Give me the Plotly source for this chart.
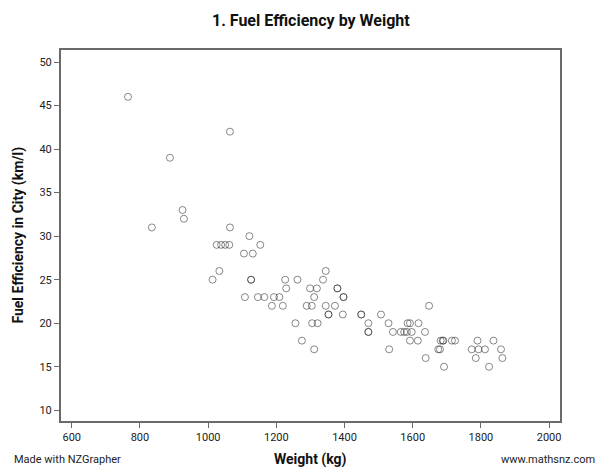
import plotly.graph_objects as go

weight_kg = [
    765, 1064, 888, 925, 929, 835, 1064, 1121, 1025, 1038, 1050, 1062, 1153,
    1105, 1131, 1033, 1013, 1126, 1126, 1226, 1262, 1345, 1337, 1229, 1299,
    1319, 1379, 1379, 1108, 1146, 1165, 1193, 1209, 1311, 1397, 1397, 1187,
    1219, 1289, 1304, 1345, 1372, 1353, 1353, 1395, 1449, 1449, 1507, 1256,
    1305, 1321, 1470, 1529, 1470, 1470, 1275, 1311, 1531, 1648, 1585, 1592,
    1617, 1542, 1565, 1575, 1583, 1597, 1636, 1592, 1615, 1682, 1688, 1690,
    1715, 1724, 1675, 1680, 1638, 1692, 1790, 1837, 1773, 1793, 1812, 1859,
    1785, 1863, 1824,
]
city_kml = [
    46, 42, 39, 33, 32, 31, 31, 30, 29, 29, 29, 29, 29,
    28, 28, 26, 25, 25, 25, 25, 25, 26, 25, 24, 24,
    24, 24, 24, 23, 23, 23, 23, 23, 23, 23, 23, 22,
    22, 22, 22, 22, 22, 21, 21, 21, 21, 21, 21, 20,
    20, 20, 20, 20, 19, 19, 18, 17, 17, 22, 20, 20,
    20, 19, 19, 19, 19, 19, 19, 18, 18, 18, 18, 18,
    18, 18, 17, 17, 16, 15, 18, 18, 17, 17, 17, 17,
    16, 16, 15,
]
x_ticks = [600, 800, 1000, 1200, 1400, 1600, 1800, 2000]
y_ticks = [10, 15, 20, 25, 30, 35, 40, 45, 50]

FONT = "Roboto"
AXC = "#6a6a6a"

fig = go.Figure()
fig.add_trace(go.Scatter(
    x=weight_kg, y=city_kml, mode="markers",
    marker=dict(symbol="circle-open", size=7, color="rgba(40,40,40,0.55)",
                line=dict(width=1)),
    hoverinfo="x+y", showlegend=False,
))

axis_common = dict(
    showline=True, mirror=True, linecolor=AXC, linewidth=2,
    ticks="outside", ticklen=5, tickcolor=AXC, tickwidth=1,
    showgrid=False, zeroline=False,
    tickfont=dict(family=FONT, size=11, color="#222"),
)
fig.update_xaxes(range=[568.5, 2032], tickvals=x_ticks, **axis_common)
fig.update_yaxes(range=[8.77, 51.38], tickvals=y_ticks, **axis_common)

fig.update_layout(
    width=608, height=472,
    margin=dict(l=61, r=48, t=50, b=51),
    plot_bgcolor="white", paper_bgcolor="white",
    font=dict(family=FONT),
)

ann = [
    dict(text="<b>1. Fuel Efficiency by Weight</b>", x=0.5, y=1.08,
         xanchor="center", yanchor="middle", font=dict(size=16, color="#111")),
    dict(text="<b>Weight (kg)</b>", x=0.5, y=-0.105,
         xanchor="center", yanchor="middle", font=dict(size=14, color="#111")),
    dict(text="<b>Fuel Efficiency in City (km/l)</b>", x=-0.086, y=0.5,
         xanchor="center", yanchor="middle", textangle=-90,
         font=dict(size=14, color="#111")),
    dict(text="Made with NZGrapher", x=-0.098, y=-0.105,
         xanchor="left", yanchor="middle", font=dict(size=11, color="#222")),
    dict(text="www.mathsnz.com", x=1.074, y=-0.105,
         xanchor="right", yanchor="middle", font=dict(size=11, color="#222")),
]
for a in ann:
    fig.add_annotation(xref="paper", yref="paper", showarrow=False, **a)

fig.write_html(
    "out.html",
    config={"displayModeBar": False},
    post_script="document.body.style.margin='0';document.body.style.overflow='hidden';",
)
